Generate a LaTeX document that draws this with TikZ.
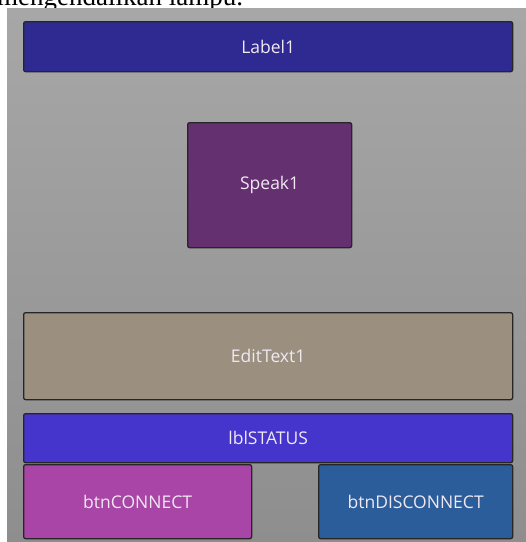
\documentclass[tikz,border=0pt]{standalone}
\usepackage{fontspec}
\setmainfont{Liberation Serif}
\newfontfamily\uifont{Open Sans}
\definecolor{lblblue}{HTML}{2F2A92}
\definecolor{speakpurple}{HTML}{65306F}
\definecolor{edittan}{HTML}{9B9080}
\definecolor{statusblue}{HTML}{4535CC}
\definecolor{connpink}{HTML}{A845A6}
\definecolor{discblue}{HTML}{2B5D9B}
\definecolor{panelTop}{HTML}{A7A7A7}
\definecolor{panelBot}{HTML}{8E8E8E}
\definecolor{uitext}{HTML}{F0E8F2}
\tikzset{
  widget/.style={draw=black!85, line width=1.3pt, rounded corners=2pt, text=uitext,
    font=\uifont\fontsize{17.5}{20}\selectfont, inner sep=0pt, anchor=north west},
}
\begin{document}
\begin{tikzpicture}[x=1pt,y=-1pt]
\useasboundingbox (0,0) rectangle (526,542);
\fill[white] (0,0) rectangle (526,542);
\node[anchor=base west, inner sep=0pt, font=\fontsize{27}{29}\selectfont] (caption) at (-3,5.5) {mengendalikan lampu.};
\shade[top color=panelTop, bottom color=panelBot] (7,8) rectangle (526,542);
\node[widget, fill=lblblue, minimum width=489pt, minimum height=50pt] (label1) at (23,21) {Label1};
\node[widget, fill=speakpurple, minimum width=164pt, minimum height=125pt] (speak1) at (187,122) {Speak1};
\node[widget, fill=edittan, minimum width=489pt, minimum height=87pt] (edittext1) at (23,312) {EditText1};
\node[widget, fill=statusblue, minimum width=489pt, minimum height=49pt] (lblstatus) at (23,413) {lblSTATUS};
\node[widget, fill=connpink, minimum width=228pt, minimum height=74pt] (btnconnect) at (23,464) {btnCONNECT};
\node[widget, fill=discblue, minimum width=194pt, minimum height=74pt] (btndisconnect) at (318,464) {btnDISCONNECT};
\end{tikzpicture}
\end{document}
